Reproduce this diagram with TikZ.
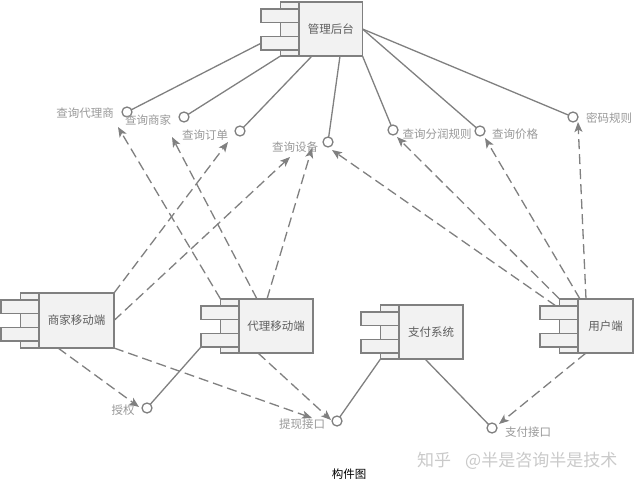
\documentclass[tikz,border=0pt]{standalone}
\usepackage{fontspec}
\newfontfamily\cjk{Noto Sans CJK SC}
\usetikzlibrary{arrows.meta,calc}
\definecolor{ln}{HTML}{808080}
\definecolor{bx}{HTML}{F2F2F2}
\definecolor{tx}{HTML}{5E5E5E}
\definecolor{lt}{HTML}{999999}
\definecolor{wm}{HTML}{CACACA}
\tikzset{
  compmain/.style={draw=ln, fill=bx, line width=1.6pt, inner sep=0pt, outer sep=0pt, anchor=north west, text=tx, font=\cjk\fontsize{11.5}{13}\selectfont},
  comppart/.style={draw=ln, fill=bx, line width=1.6pt, inner sep=0pt, outer sep=0pt, anchor=north west},
  iface/.style={circle, draw=ln, fill=white, line width=1.3pt, minimum size=10pt, inner sep=0pt, outer sep=0pt},
  ilabel/.style={text=lt, inner sep=0pt, font=\cjk\fontsize{11.5}{13}\selectfont},
  assoc/.style={draw=ln, line width=1.3pt},
  dep/.style={draw=ln, line width=1.3pt, dash pattern=on 10pt off 5pt, -{Stealth[length=10pt,width=8pt,inset=2.5pt]}},
}
% #1 name, #2 main left x, #3 top y, #4 width, #5 height, #6 text
\newcommand\mkcomp[6]{%
  \node[comppart, minimum width=18.5pt, minimum height=#5pt] (#1S) at (#2-18.5,#3) {};
  \node[comppart, minimum width=38pt, minimum height=13.5pt] (#1P1) at (#2-38,#3+7) {};
  \node[comppart, minimum width=38pt, minimum height=13.5pt] (#1P2) at (#2-38,#3+34.5) {};
  \node[compmain, minimum width=#4pt, minimum height=#5pt] (#1) at (#2,#3) {#6};
}
\begin{document}
\begin{tikzpicture}[x=1pt,y=-1pt]
\useasboundingbox (0,0) rectangle (640,487);
\fill[white] (0,0) rectangle (640,487);

% components
\mkcomp{mgr}{299}{2}{63.5}{54}{管理后台}
\mkcomp{merch}{39}{293}{75}{55}{商家移动端}
\mkcomp{agent}{239}{299}{74}{54}{代理移动端}
\mkcomp{pay}{399}{305}{64}{54}{支付系统}
\mkcomp{user}{578}{299}{55}{54}{用户端}

% interfaces
\node[iface] (iAgentQ) at (127,112) {};
\node[ilabel] (lAgentQ) at (85,113) {查询代理商};
\node[iface] (iMerchQ) at (184,117) {};
\node[ilabel] (lMerchQ) at (148,120) {查询商家};
\node[iface] (iOrder) at (240,131) {};
\node[ilabel] (lOrder) at (205,135) {查询订单};
\node[iface] (iDevice) at (328,142) {};
\node[ilabel] (lDevice) at (295,147) {查询设备};
\node[iface] (iProfit) at (393,130) {};
\node[ilabel] (lProfit) at (437,134) {查询分润规则};
\node[iface] (iPrice) at (480,131) {};
\node[ilabel] (lPrice) at (515,134) {查询价格};
\node[iface] (iPwd) at (573,117) {};
\node[ilabel] (lPwd) at (609,118) {密码规则};
\node[iface] (iAuth) at (147,408) {};
\node[ilabel] (lAuth) at (123,410) {授权};
\node[iface] (iWithdraw) at (337,421) {};
\node[ilabel] (lWithdraw) at (302,424) {提现接口};
\node[iface] (iPayIf) at (492,428) {};
\node[ilabel] (lPayIf) at (528,432) {支付接口};

% arrow tip coordinates
\coordinate (tAgentQ) at (118,127);
\coordinate (tMerchQ) at (172,137);
\coordinate (tOrder) at (228,142);
\coordinate (tDev1) at (290,157);
\coordinate (tDev2) at (312,148);
\coordinate (tDev3) at (332,150);
\coordinate (tProfit) at (397,137);
\coordinate (tPrice) at (485,138);
\coordinate (tPwd) at (578,122);
\coordinate (tAuth) at (139,407);
\coordinate (tWd1) at (312,418);
\coordinate (tWd2) at (331,420);
\coordinate (tPayIf) at (499,424);

% realizations (solid)
\draw[assoc] (mgrP2.west) -- (iAgentQ);
\draw[assoc] (mgrS.south west) -- (iMerchQ);
\draw[assoc] ($(mgr.south west)+(13,0)$) -- (iOrder);
\draw[assoc] ($(mgr.south west)+(41,0)$) -- (iDevice);
\draw[assoc] (mgr.south east) -- (iProfit);
\draw[assoc] (mgr.east) -- (iPrice);
\draw[assoc] (mgr.east) -- (iPwd);
\draw[assoc] (agentP2.south west) -- (iAuth);
\draw[assoc] (payS.south west) -- (iWithdraw);
\draw[assoc] ($(pay.south west)+(26,0)$) -- (iPayIf);

% dependencies (dashed)
\draw[dep] (agentS.north west) -- (tAgentQ);
\draw[dep] ($(agent.north west)+(18,0)$) -- (tMerchQ);
\draw[dep] ($(agent.north west)+(28,0)$) -- (tDev2);
\draw[dep] (merch.north east) -- (tOrder);
\draw[dep] (merch.east) -- (tDev1);
\draw[dep] ($(userP1.north)+(-3,0)$) -- (tDev3);
\draw[dep] (userS.north west) -- (tProfit);
\draw[dep] ($(user.north west)+(2,0)$) -- (tPrice);
\draw[dep] ($(user.north west)+(8,0)$) -- (tPwd);
\draw[dep] ($(merch.south west)+(19,0)$) -- (tAuth);
\draw[dep] (merch.south east) -- (tWd1);
\draw[dep] ($(agent.south west)+(19,0)$) -- (tWd2);
\draw[dep] ($(user.south west)+(8,0)$) -- (tPayIf);

% captions
\node[font=\cjk\fontsize{11.5}{13}\selectfont, text=black] (cap) at (349,474) {构件图};
\node[font=\cjk\fontsize{17}{19}\selectfont, text=wm, anchor=west, inner sep=0pt] (wmark) at (417,461) {知乎\hspace{14pt}@半是咨询半是技术};
\end{tikzpicture}
\end{document}
